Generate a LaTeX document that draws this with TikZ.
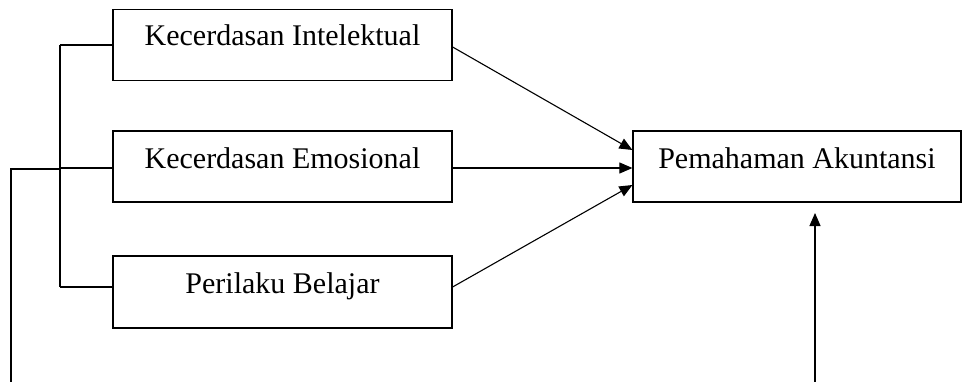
\documentclass[tikz,border=0pt]{standalone}
\usepackage{fontspec}
\setmainfont{Liberation Serif}
\usetikzlibrary{arrows.meta}
\begin{document}
\begin{tikzpicture}[x=1pt,y=-1pt,
  box/.style={draw=black,line width=1.2pt,rectangle,inner sep=0pt,minimum height=71pt},
  lbl/.style={anchor=base,inner sep=0pt,font=\fontsize{30}{36}\selectfont},
  conn/.style={line width=1.1pt},
  arr/.style={line width=1.1pt,-{Triangle[length=13pt,width=11pt]}}]
\useasboundingbox (0,0) rectangle (963,382);
\node[box,minimum width=339pt] (b1) at (282.5,45) {};
\node[box,minimum width=339pt] (b2) at (282.5,166.5) {};
\node[box,minimum width=339pt,minimum height=72pt] (b3) at (282.5,292) {};
\node[box,minimum width=328pt] (b4) at (797,166.5) {};
\node[lbl] (t1) at (282.5,46) {Kecerdasan Intelektual};
\node[lbl] (t2) at (282.5,168) {Kecerdasan Emosional};
\node[lbl] (t3) at (282.5,293) {Perilaku Belajar};
\node[lbl] (t4) at (797,168) {Pemahaman Akuntansi};
% bracket
\coordinate (j1) at (60,45);
\coordinate (j2) at (60,168);
\coordinate (j3) at (60,287);
\coordinate (lt) at (11,169);
\coordinate (lb) at (11,382);
\coordinate (jm) at (60,169);
\coordinate (bb) at (815,382);
\coordinate (bt) at (815,213);
\draw[conn] (j1) -- (j3);
\draw[conn] (j1) -- (b1.west);
\draw[conn] (j2) -- (b2.west |- j2);
\draw[conn] (j3) -- (b3.west |- j3);
\draw[conn] (lb) -- (lt) -- (jm);
% arrows
\draw[arr] ([yshift=-2pt]b1.east) -- ([yshift=16.5pt]b4.west);
\draw[arr] (b2.east |- j2) -- (b4.west |- j2);
\draw[arr] ([yshift=5pt]b3.east) -- ([yshift=-18.5pt]b4.west);
\draw[arr] (bb) -- (bt);
\end{tikzpicture}
\end{document}
